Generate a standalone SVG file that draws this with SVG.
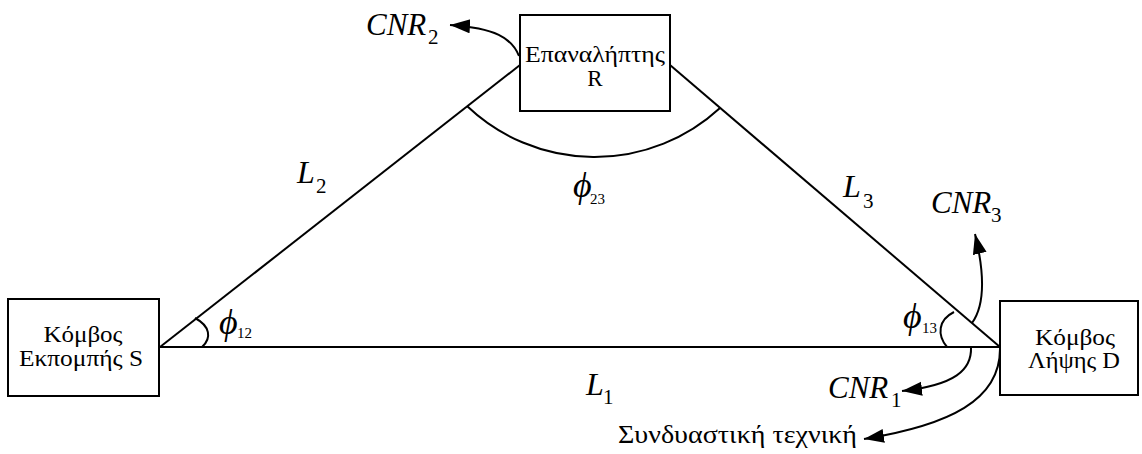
<svg xmlns="http://www.w3.org/2000/svg" width="1142" height="454" viewBox="0 0 1142 454">
<defs>
<marker id="ah" markerUnits="userSpaceOnUse" markerWidth="22" markerHeight="16" refX="20" refY="7" orient="auto">
<path d="M0,0 L20,7 L0,14 Z" fill="#000"/>
</marker>
</defs>
<rect width="1142" height="454" fill="#fff"/>
<g id="connectors" fill="none" stroke="#000" stroke-width="2">
<line x1="160" y1="347" x2="520" y2="65"/>
<line x1="670" y1="65" x2="1000" y2="347"/>
<line x1="160" y1="347" x2="1000" y2="347"/>
<path d="M467,106 A185,185 0 0 0 720,108"/>
<path d="M195,318 C210,326 212,338 202,347"/>
<path d="M954,312 C938,320 937,335 947,347"/>
<path d="M519,56 C512,38 495,28 450,25" marker-end="url(#ah)"/>
<path d="M972,323 C985,305 985,275 975,234" marker-end="url(#ah)"/>
<path d="M971,347 C972,370 955,385 902,391" marker-end="url(#ah)"/>
<path d="M1000,349 C1000,400 950,425 864,439" marker-end="url(#ah)"/>
</g>
<g id="node-S" font-family="Liberation Serif" font-size="23" text-anchor="middle">
<rect x="8" y="299" width="151" height="97" fill="#fff" stroke="#000" stroke-width="2"/>
<text x="83" y="342" textLength="79" lengthAdjust="spacingAndGlyphs">Κόμβος</text>
<text x="81" y="366" textLength="124" lengthAdjust="spacingAndGlyphs">Εκπομπής S</text>
</g>
<g id="node-R" font-family="Liberation Serif" font-size="23" text-anchor="middle">
<rect x="520" y="15" width="150" height="96" fill="#fff" stroke="#000" stroke-width="2"/>
<text x="595" y="62" textLength="140" lengthAdjust="spacingAndGlyphs">Επαναλήπτης</text>
<text x="595" y="86">R</text>
</g>
<g id="node-D" font-family="Liberation Serif" font-size="23" text-anchor="middle">
<rect x="1000" y="301" width="138" height="94" fill="#fff" stroke="#000" stroke-width="2"/>
<text x="1075" y="345" textLength="80" lengthAdjust="spacingAndGlyphs">Κόμβος</text>
<text x="1074" y="368" textLength="92" lengthAdjust="spacingAndGlyphs">Λήψης D</text>
</g>
<g id="labels" font-family="Liberation Serif">
<text font-style="italic" font-size="31" x="366" y="35">CNR</text><text font-size="21" x="428" y="44">2</text>
<text font-style="italic" font-size="31" x="931" y="213">CNR</text><text font-size="21" x="991" y="222">3</text>
<text font-style="italic" font-size="31" x="828" y="398">CNR</text><text font-size="21" x="891" y="407">1</text>
<text font-style="italic" font-size="32" x="297" y="183">L</text><text font-size="21" x="316" y="193">2</text>
<text font-style="italic" font-size="32" x="843" y="197">L</text><text font-size="21" x="863" y="208">3</text>
<text font-style="italic" font-size="32" x="586" y="395">L</text><text font-size="21" x="603" y="404">1</text>
<text font-style="italic" font-size="36" x="219" y="334">ϕ</text><text font-size="15" x="237" y="338">12</text>
<text font-style="italic" font-size="36" x="903" y="328">ϕ</text><text font-size="15" x="922" y="333">13</text>
<text font-style="italic" font-size="36" x="573" y="197">ϕ</text><text font-size="15" x="590" y="204">23</text>
<text font-size="25" x="618" y="443" textLength="239" lengthAdjust="spacingAndGlyphs">Συνδυαστική τεχνική</text>
</g>
</svg>
